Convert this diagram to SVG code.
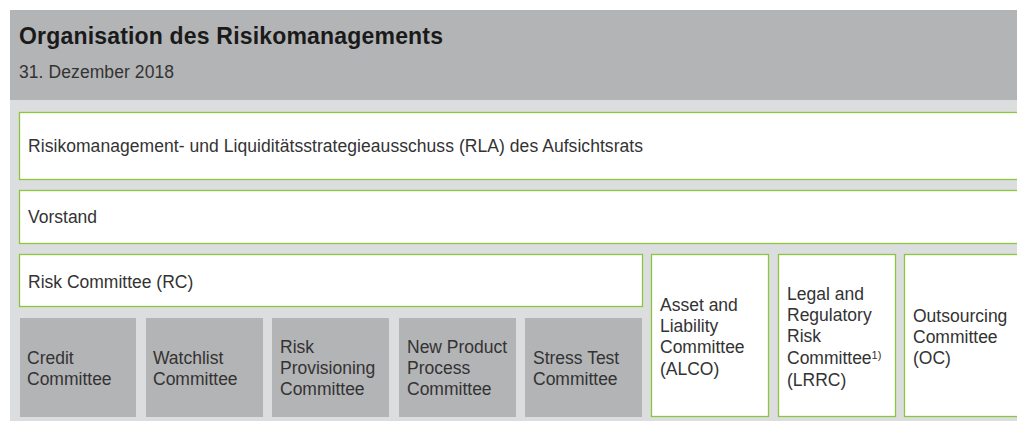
<svg xmlns="http://www.w3.org/2000/svg" width="1017" height="421" viewBox="0 0 1017 421">
<style>
.hdr{fill:#b3b4b6}
.body{fill:#dcddde}
.box{fill:#ffffff;stroke:#8cc63f;stroke-width:1.3}
.gbox{fill:#b3b4b6}
text{font-family:"Liberation Sans",Arial,sans-serif;fill:#333333;font-size:17.5px}
.title{font-size:23px;font-weight:bold;fill:#1a1a1a}
.sup{font-size:11px}
</style>
<rect x="0" y="0" width="1017" height="421" fill="#ffffff"/>
<rect class="hdr" x="10" y="10" width="1007" height="90"/>
<rect class="body" x="10" y="100" width="1007" height="321"/>
<text class="title" x="19" y="44" textLength="424">Organisation des Risikomanagements</text>
<text x="19" y="78" textLength="155">31. Dezember 2018</text>
<g id="rla">
<rect class="box" x="19.5" y="112.5" width="1010" height="67"/>
<text x="28" y="152" textLength="615">Risikomanagement- und Liquiditätsstrategieausschuss (RLA) des Aufsichtsrats</text>
</g>
<g id="vorstand">
<rect class="box" x="19.5" y="190.5" width="1010" height="53"/>
<text x="28" y="223">Vorstand</text>
</g>
<g id="rc">
<rect class="box" x="19.5" y="254.5" width="623" height="52"/>
<text x="28" y="288">Risk Committee (RC)</text>
</g>
<g id="credit">
<rect class="gbox" x="20" y="318" width="116" height="99"/>
<text x="27" y="364">Credit</text>
<text x="27" y="385">Committee</text>
</g>
<g id="watchlist">
<rect class="gbox" x="146" y="318" width="117" height="99"/>
<text x="153" y="364">Watchlist</text>
<text x="153" y="385">Committee</text>
</g>
<g id="riskprov">
<rect class="gbox" x="272" y="318" width="117" height="99"/>
<text x="280" y="353">Risk</text>
<text x="280" y="374">Provisioning</text>
<text x="280" y="395">Committee</text>
</g>
<g id="newproduct">
<rect class="gbox" x="399" y="318" width="117" height="99"/>
<text x="407" y="353">New Product</text>
<text x="407" y="374">Process</text>
<text x="407" y="395">Committee</text>
</g>
<g id="stresstest">
<rect class="gbox" x="525" y="318" width="117" height="99"/>
<text x="533" y="364">Stress Test</text>
<text x="533" y="385">Committee</text>
</g>
<g id="alco">
<rect class="box" x="651.5" y="254.5" width="117" height="162"/>
<text x="660" y="311">Asset and</text>
<text x="660" y="332">Liability</text>
<text x="660" y="353">Committee</text>
<text x="660" y="375">(ALCO)</text>
</g>
<g id="lrrc">
<rect class="box" x="778.5" y="254.5" width="117" height="162"/>
<text x="787" y="300">Legal and</text>
<text x="787" y="321">Regulatory</text>
<text x="787" y="342">Risk</text>
<text x="787" y="364">Committee<tspan class="sup" dy="-5">1)</tspan></text>
<text x="787" y="386">(LRRC)</text>
</g>
<g id="oc">
<rect class="box" x="904.5" y="254.5" width="130" height="162"/>
<text x="913" y="322">Outsourcing</text>
<text x="913" y="343">Committee</text>
<text x="913" y="364">(OC)</text>
</g>
<g id="connectors"></g>
</svg>
